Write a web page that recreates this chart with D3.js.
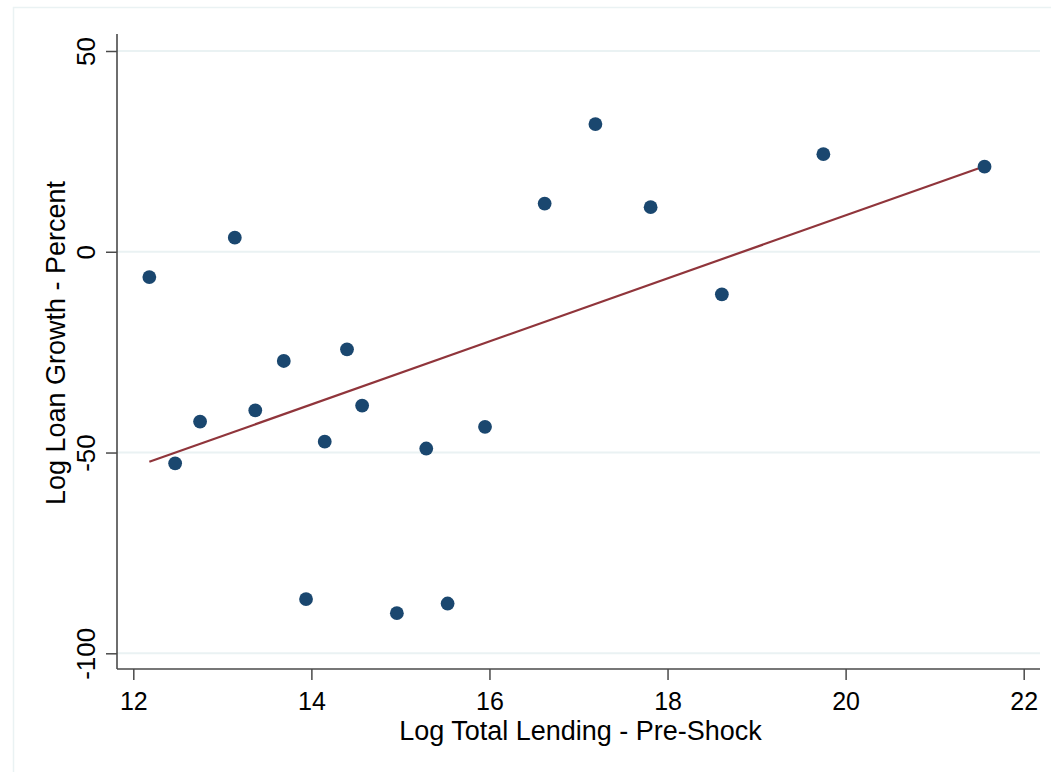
<!DOCTYPE html>
<html lang="en">
<head>
<meta charset="utf-8">
<title>Loan growth vs total lending</title>
<style>
body {
  margin: 0;
  background: #fff;
  font-family: "Liberation Sans", Arial, sans-serif;
}
</style>
<script src="https://d3js.org/d3.v7.min.js"></script>
</head>
<body>
<div id="chart"></div>
<script>
// values
var lending = [12.18, 12.47, 12.75, 13.14, 13.37, 13.69, 13.94, 14.15, 14.40, 14.57,
               15.29, 14.96, 15.53, 15.95, 16.62, 17.19, 17.81, 18.61, 19.75, 21.56];
var growth = [-6.3, -52.7, -42.3, 3.5, -39.5, -27.2, -86.5, -47.3, -24.3, -38.3,
              -49.0, -90.0, -87.6, -43.6, 12.0, 31.8, 11.1, -10.6, 24.3, 21.2];
var xTicks = [12, 14, 16, 18, 20, 22];
var yTicks = [-100, -50, 0, 50];

var W = 1051, H = 772;
var plotLeft = 117, plotRight = 1040, plotTop = 34, plotBottom = 669;

var svg = d3.select('#chart').append('svg')
  .attr('width', W)
  .attr('height', H);

// outer graph frame
svg.append('rect')
  .attr('x', 13.5).attr('y', 7.5)
  .attr('width', W + 20).attr('height', H + 20)
  .attr('fill', 'none')
  .attr('stroke', '#eaf2f3')
  .attr('stroke-width', 1.5);

var x = d3.scaleLinear().domain([12, 22]).range([133.3, 1023.7]);
var y = d3.scaleLinear().domain([-100, 50]).range([653.3, 51]);

// gridlines
svg.append('g').selectAll('line')
  .data(yTicks)
  .enter().append('line')
  .attr('x1', plotLeft).attr('x2', plotRight)
  .attr('y1', function(d) { return y(d); })
  .attr('y2', function(d) { return y(d); })
  .attr('stroke', '#eaf2f3')
  .attr('stroke-width', 2);

// least squares fit line
var mx = d3.mean(lending), my = d3.mean(growth);
var sxy = d3.sum(lending, function(v, i) { return (v - mx) * (growth[i] - my); });
var sxx = d3.sum(lending, function(v) { return (v - mx) * (v - mx); });
var slope = sxy / sxx, icpt = my - slope * mx;
var xr = d3.extent(lending);

svg.append('line')
  .attr('x1', x(xr[0])).attr('y1', y(icpt + slope * xr[0]))
  .attr('x2', x(xr[1])).attr('y2', y(icpt + slope * xr[1]))
  .attr('stroke', '#90353b')
  .attr('stroke-width', 2.2);

// points
svg.append('g').selectAll('circle')
  .data(lending)
  .enter().append('circle')
  .attr('cx', function(d) { return x(d); })
  .attr('cy', function(d, i) { return y(growth[i]); })
  .attr('r', 6.9)
  .attr('fill', '#1a476f');

// axes
var axisColor = '#4a4a4a';
var plain = function(d) { return String(d); };  // keep ascii hyphen minus

var gx = svg.append('g')
  .attr('transform', 'translate(0,' + plotBottom + ')')
  .call(d3.axisBottom(x).tickValues(xTicks).tickFormat(plain).tickSize(11).tickSizeOuter(0));
gx.select('.domain').remove();
gx.selectAll('.tick line').attr('stroke', axisColor).attr('stroke-width', 1.5);
gx.selectAll('.tick text')
  .attr('y', 41).attr('dy', 0)
  .attr('fill', '#000')
  .style('font-size', '25px')
  .style('font-family', '"Liberation Sans", Arial, sans-serif');
gx.append('line')
  .attr('x1', plotLeft).attr('x2', plotRight)
  .attr('stroke', axisColor).attr('stroke-width', 1.6);

var gy = svg.append('g')
  .attr('transform', 'translate(' + plotLeft + ',0)')
  .call(d3.axisLeft(y).tickValues(yTicks).tickFormat(plain).tickSize(11).tickSizeOuter(0));
gy.select('.domain').remove();
gy.selectAll('.tick line').attr('stroke', axisColor).attr('stroke-width', 1.5);
gy.selectAll('.tick text')
  .attr('x', 0).attr('y', 0).attr('dy', 0)
  .attr('text-anchor', 'middle')
  .attr('transform', 'translate(-22,0) rotate(-90)')
  .attr('fill', '#000')
  .style('font-size', '26px')
  .style('font-family', '"Liberation Sans", Arial, sans-serif');
gy.append('line')
  .attr('y1', plotTop).attr('y2', plotBottom)
  .attr('stroke', axisColor).attr('stroke-width', 1.6);

// axis titles
svg.append('text')
  .attr('x', 580.5).attr('y', 740)
  .attr('text-anchor', 'middle')
  .style('font-size', '27px')
  .text('Log Total Lending - Pre-Shock');

svg.append('text')
  .attr('transform', 'translate(65,343) rotate(-90)')
  .attr('text-anchor', 'middle')
  .style('font-size', '27px')
  .text('Log Loan Growth - Percent');
</script>
</body>
</html>
